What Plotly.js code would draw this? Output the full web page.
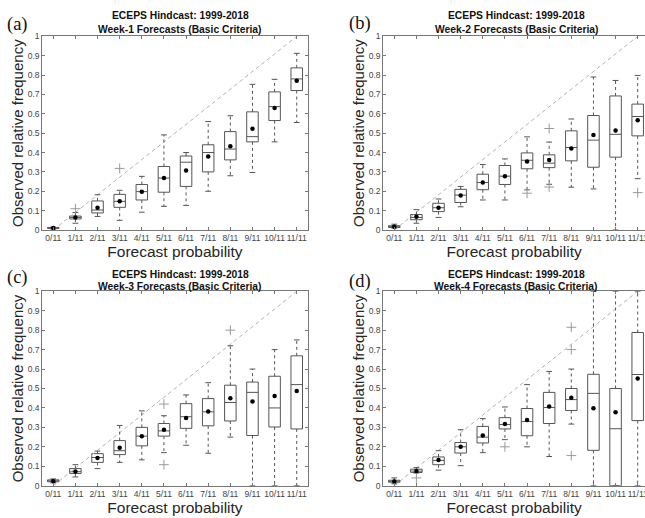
<!DOCTYPE html>
<html><head><meta charset="utf-8">
<script src="https://cdn.plot.ly/plotly-3.0.1.min.js"></script>
<style>html,body{margin:0;padding:0;background:#fff;overflow:hidden}</style>
</head><body><div id="chart" style="width:645px;height:518px"></div>
<script>
const categories = ['0/11','1/11','2/11','3/11','4/11','5/11','6/11','7/11','8/11','9/11','10/11','11/11'];
const titleLine1 = 'ECEPS Hindcast: 1999-2018';
const panelTitles = ['Week-1 Forecasts (Basic Criteria)','Week-2 Forecasts (Basic Criteria)','Week-3 Forecasts (Basic Criteria)','Week-4 Forecasts (Basic Criteria)'];
const panelLabels = ['(a)','(b)','(c)','(d)'];
const xTitle = 'Forecast probability';
const yTitle = 'Observed relative frequency';

// Week-1
const w1Low    = [0.005,0.035,0.070,0.050,0.092,0.122,0.127,0.200,0.280,0.297,0.455,0.555];
const w1Q1     = [0.008,0.057,0.088,0.117,0.155,0.195,0.225,0.300,0.362,0.455,0.565,0.720];
const w1Median = [0.010,0.065,0.103,0.148,0.198,0.268,0.350,0.400,0.418,0.482,0.637,0.780];
const w1Q3     = [0.013,0.072,0.150,0.184,0.235,0.328,0.382,0.440,0.508,0.610,0.713,0.837];
const w1High   = [0.015,0.090,0.182,0.205,0.277,0.491,0.400,0.560,0.590,0.752,0.778,0.912];
const w1Mean   = [0.010,0.065,0.115,0.148,0.198,0.268,0.307,0.380,0.432,0.523,0.630,0.770];
const w1OutCat = ['1/11','3/11'];
const w1OutVal = [0.110,0.318];

// Week-2
const w2Low    = [0.010,0.035,0.065,0.120,0.155,0.155,0.207,0.236,0.221,0.212,0.000,0.265];
const w2Q1     = [0.013,0.053,0.095,0.142,0.208,0.235,0.316,0.322,0.357,0.324,0.376,0.486];
const w2Median = [0.017,0.065,0.115,0.180,0.245,0.278,0.360,0.345,0.426,0.464,0.494,0.586];
const w2Q3     = [0.022,0.080,0.138,0.210,0.288,0.333,0.398,0.388,0.512,0.591,0.692,0.650];
const w2High   = [0.030,0.105,0.160,0.225,0.338,0.367,0.481,0.454,0.573,0.790,0.772,0.798];
const w2Mean   = [0.017,0.068,0.115,0.178,0.245,0.278,0.353,0.362,0.421,0.491,0.514,0.566];
const w2OutCat = ['6/11','7/11','7/11','11/11'];
const w2OutVal = [0.190,0.524,0.222,0.193];

// Week-3
const w3Low    = [0.015,0.045,0.088,0.120,0.133,0.170,0.208,0.167,0.250,0.000,0.000,0.000];
const w3Q1     = [0.020,0.063,0.120,0.160,0.205,0.255,0.295,0.308,0.333,0.258,0.302,0.292];
const w3Median = [0.025,0.072,0.145,0.180,0.255,0.282,0.355,0.380,0.428,0.480,0.400,0.520];
const w3Q3     = [0.030,0.088,0.165,0.232,0.300,0.320,0.422,0.448,0.517,0.533,0.563,0.668];
const w3High   = [0.035,0.108,0.178,0.310,0.385,0.360,0.467,0.530,0.720,0.600,0.700,0.750];
const w3Mean   = [0.023,0.073,0.143,0.195,0.255,0.288,0.348,0.382,0.450,0.433,0.462,0.487];
const w3OutCat = ['5/11','5/11','8/11'];
const w3OutVal = [0.420,0.108,0.800];

// Week-4
const w4Low    = [0.010,0.065,0.080,0.103,0.170,0.237,0.200,0.150,0.317,0.000,0.000,0.000];
const w4Q1     = [0.018,0.068,0.108,0.168,0.220,0.292,0.257,0.320,0.387,0.182,0.000,0.335];
const w4Median = [0.022,0.075,0.130,0.200,0.250,0.315,0.330,0.402,0.443,0.475,0.293,0.572];
const w4Q3     = [0.028,0.085,0.148,0.222,0.305,0.350,0.397,0.480,0.500,0.573,0.500,0.788];
const w4High   = [0.040,0.093,0.180,0.288,0.345,0.405,0.520,0.588,0.600,1.000,1.000,1.000];
const w4Mean   = [0.022,0.075,0.132,0.200,0.258,0.317,0.338,0.408,0.452,0.398,0.378,0.552];
const w4OutCat = ['1/11','5/11','8/11','8/11','8/11'];
const w4OutVal = [0.040,0.200,0.815,0.700,0.155];

const panels = [
  {low:w1Low,q1:w1Q1,med:w1Median,q3:w1Q3,high:w1High,mean:w1Mean,oc:w1OutCat,ov:w1OutVal},
  {low:w2Low,q1:w2Q1,med:w2Median,q3:w2Q3,high:w2High,mean:w2Mean,oc:w2OutCat,ov:w2OutVal},
  {low:w3Low,q1:w3Q1,med:w3Median,q3:w3Q3,high:w3High,mean:w3Mean,oc:w3OutCat,ov:w3OutVal},
  {low:w4Low,q1:w4Q1,med:w4Median,q3:w4Q3,high:w4High,mean:w4Mean,oc:w4OutCat,ov:w4OutVal}
];

const idx = categories.map((c,i)=>i);
const boxW = 0.52, capHalf = 0.13;
const edge = '#555';
const traces = [];
panels.forEach((p,k)=>{
  const xa = k===0?'x':'x'+(k+1), ya = k===0?'y':'y'+(k+1);
  traces.push({type:'scatter',mode:'lines',x:[0,categories.length-1],y:[0,1],xaxis:xa,yaxis:ya,
    line:{color:'#b3b3b3',width:1,dash:'4px,3px'},hoverinfo:'skip'});
  const wx=[],wy=[],cx=[],cy=[];
  idx.forEach(i=>{
    wx.push(i,i,null,i,i,null); wy.push(p.q3[i],p.high[i],null,p.q1[i],p.low[i],null);
    cx.push(i-capHalf,i+capHalf,null,i-capHalf,i+capHalf,null); cy.push(p.high[i],p.high[i],null,p.low[i],p.low[i],null);
  });
  traces.push({type:'scatter',mode:'lines',x:wx,y:wy,xaxis:xa,yaxis:ya,line:{color:edge,width:1,dash:'dot'},hoverinfo:'skip',connectgaps:false});
  traces.push({type:'scatter',mode:'lines',x:cx,y:cy,xaxis:xa,yaxis:ya,line:{color:edge,width:1},hoverinfo:'skip',connectgaps:false});
  traces.push({type:'box',x:idx,q1:p.q1,median:p.med,q3:p.q3,lowerfence:p.q1,upperfence:p.q3,
    boxpoints:false,width:boxW,whiskerwidth:0,fillcolor:'rgba(0,0,0,0)',line:{color:edge,width:1},xaxis:xa,yaxis:ya,hoverinfo:'skip'});
  traces.push({type:'scatter',mode:'markers',x:p.oc.map(c=>categories.indexOf(c)),y:p.ov,xaxis:xa,yaxis:ya,
    marker:{symbol:'cross-thin-open',size:7,color:'#9a9a9a',line:{color:'#9a9a9a',width:1}},hoverinfo:'skip'});
  traces.push({type:'scatter',mode:'markers',x:idx,y:p.mean,xaxis:xa,yaxis:ya,
    marker:{symbol:'circle',size:4.5,color:'#000'},hoverinfo:'skip'});
});

const W=645,H=518;
const font = 'Liberation Sans, Arial, Helvetica, sans-serif';
function xax(l,r,rmax){
  return {domain:[l/W,r/W],range:[-0.5,rmax],tickvals:idx,ticktext:categories,tickangle:0,ticklabeloverflow:'allow',
    ticks:'inside',ticklen:3,tickcolor:'#777',showline:true,linecolor:'#777',linewidth:1,mirror:'ticks',showgrid:false,zeroline:false,
    tickfont:{size:8.5,color:'#444',family:font},automargin:false,fixedrange:true,
    title:{text:xTitle,font:{size:15.5,color:'#262626',family:font},standoff:1}};
}
function yax(t,b,anchor,mir){
  return {domain:[1-b/H,1-t/H],range:[0,1],tick0:0,dtick:0.1,ticks:'inside',ticklen:3,tickcolor:'#777',
    showline:true,linecolor:'#777',linewidth:1,mirror:mir,showgrid:false,zeroline:false,anchor:anchor,
    tickfont:{size:8.5,color:'#444',family:font},automargin:false,fixedrange:true,
    title:{text:yTitle,font:{size:15,color:'#262626',family:font},standoff:0}};
}
const sp = 22.13;
const bRight = -0.5 + (W-383.2)/sp;
const layout = {
  width:W,height:H,margin:{l:0,r:0,t:0,b:0},paper_bgcolor:'#fff',plot_bgcolor:'#fff',showlegend:false,
  font:{family:font},
  xaxis: Object.assign(xax(42.2,307.8,11.5),{anchor:'y'}),
  xaxis2:Object.assign(xax(383.2,W,bRight),{anchor:'y2'}),
  xaxis3:Object.assign(xax(42.2,307.8,11.5),{anchor:'y3'}),
  xaxis4:Object.assign(xax(383.2,W,bRight),{anchor:'y4'}),
  yaxis: yax(36.3,230,'x','ticks'),
  yaxis2:yax(36.3,230,'x2',false),
  yaxis3:yax(291.3,485.7,'x3','ticks'),
  yaxis4:yax(291.3,485.7,'x4',false),
  annotations:[]
};
const tPos = [[180,15,29.5],[516.5,15,29.5],[180,274,286],[516,274,286]];
const lPos = [[17.5,24],[359.5,23],[17,277],[359.5,281]];
tPos.forEach((t,k)=>{
  layout.annotations.push({xref:'paper',yref:'paper',x:t[0]/W,y:1-t[1]/H,xanchor:'center',yanchor:'middle',showarrow:false,
    text:'<b>'+titleLine1+'</b>',font:{size:10.3,color:'#111',family:font}});
  layout.annotations.push({xref:'paper',yref:'paper',x:t[0]/W,y:1-t[2]/H,xanchor:'center',yanchor:'middle',showarrow:false,
    text:'<b>'+panelTitles[k]+'</b>',font:{size:10.3,color:'#111',family:font}});
  layout.annotations.push({xref:'paper',yref:'paper',x:lPos[k][0]/W,y:1-lPos[k][1]/H,xanchor:'center',yanchor:'middle',showarrow:false,
    text:panelLabels[k],font:{size:18.5,color:'#111',family:'Liberation Serif, Times New Roman, serif'}});
});
Plotly.newPlot('chart',traces,layout,{staticPlot:true,displayModeBar:false});
</script></body></html>
